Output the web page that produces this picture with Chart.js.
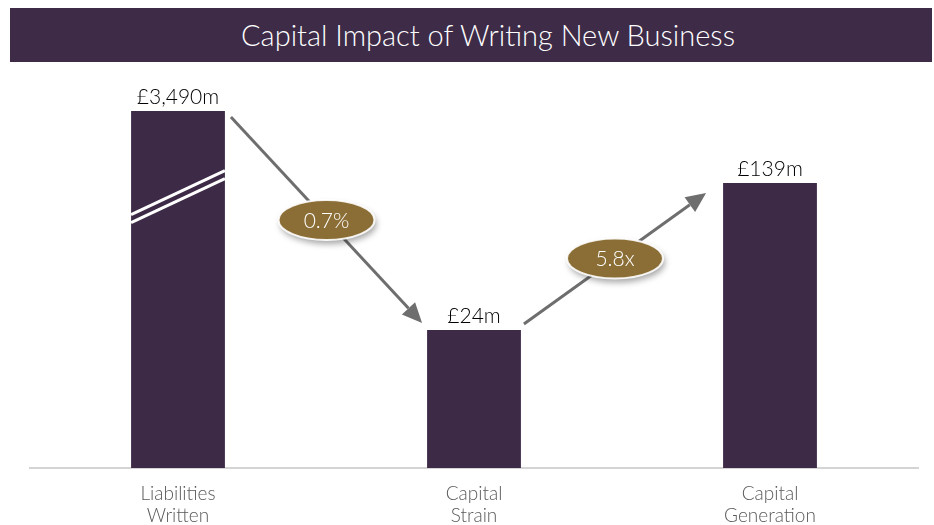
<!DOCTYPE html>
<html>
<head>
<meta charset="utf-8">
<script src="https://cdn.jsdelivr.net/npm/chart.js@4.4.1/dist/chart.umd.min.js"></script>
<style>
  html, body { margin: 0; padding: 0; background: #fff; }
  #wrap { position: relative; width: 934px; height: 525px; }
  #title {
    position: absolute; left: 10px; top: 8px; width: 922px; height: 54px;
    box-sizing: border-box; padding-left: 34px;
    background: #3d2b47; color: #fff;
    font: 300 29px Lato, sans-serif; line-height: 54px; text-align: center;
  }
  #chart { position: absolute; left: 0; top: 0; }
</style>
</head>
<body>
<div id="wrap">
  <canvas id="chart" width="934" height="525"></canvas>
  <div id="title">Capital Impact of Writing New Business</div>
</div>
<script>
// Bars, £m
const categories = [['Liabilities', 'Written'], ['Capital', 'Strain'], ['Capital', 'Generation']];
const amounts = [3490, 24, 139];

// Log axis range; the liabilities bar runs off the top and gets a break mark
const yMin = 4.61;
const yMax = 328.6;

const barColour = '#3c2a46';
const labelFont = '300 21px Lato, sans-serif';

function barTop(bar, area) {
  return Math.max(bar.y, area.top);
}

// Value labels above each bar
const valueLabels = {
  id: 'valueLabels',
  afterDatasetsDraw(chart) {
    const ctx = chart.ctx;
    const bars = chart.getDatasetMeta(0).data;
    ctx.save();
    ctx.font = labelFont;
    ctx.fillStyle = '#000';
    ctx.textAlign = 'center';
    ctx.textBaseline = 'bottom';
    bars.forEach((bar, i) => {
      const text = '£' + amounts[i].toLocaleString('en-GB') + 'm';
      ctx.fillText(text, bar.x, barTop(bar, chart.chartArea) - 3);
    });
    ctx.restore();
  }
};

// White double slash on bars cut off by the axis max
const breakMarks = {
  id: 'breakMarks',
  afterDatasetsDraw(chart) {
    const ctx = chart.ctx;
    const area = chart.chartArea;
    chart.getDatasetMeta(0).data.forEach((bar, i) => {
      if (amounts[i] <= yMax) return;
      const left = bar.x - bar.width / 2;
      const right = bar.x + bar.width / 2;
      const mid = area.top + (bar.base - area.top) * 0.24;
      ctx.save();
      ctx.strokeStyle = '#fff';
      ctx.lineWidth = 3;
      [-4, 4].forEach(off => {
        ctx.beginPath();
        ctx.moveTo(left, mid + 22 + off);
        ctx.lineTo(right, mid - 22 + off);
        ctx.stroke();
      });
      ctx.restore();
    });
  }
};

function drawArrow(ctx, x1, y1, x2, y2) {
  const ang = Math.atan2(y2 - y1, x2 - x1);
  const head = 20, half = 9;
  const bx = x2 - head * Math.cos(ang);
  const by = y2 - head * Math.sin(ang);
  ctx.strokeStyle = '#6e6e6e';
  ctx.fillStyle = '#6e6e6e';
  ctx.lineWidth = 3;
  ctx.beginPath();
  ctx.moveTo(x1, y1);
  ctx.lineTo(bx, by);
  ctx.stroke();
  ctx.beginPath();
  ctx.moveTo(x2, y2);
  ctx.lineTo(bx + half * Math.sin(ang), by - half * Math.cos(ang));
  ctx.lineTo(bx - half * Math.sin(ang), by + half * Math.cos(ang));
  ctx.closePath();
  ctx.fill();
}

function drawBadge(ctx, x, y, text) {
  ctx.save();
  ctx.shadowColor = 'rgba(0,0,0,0.35)';
  ctx.shadowBlur = 6;
  ctx.shadowOffsetX = 2;
  ctx.shadowOffsetY = 4;
  ctx.beginPath();
  ctx.ellipse(x, y, 48, 20, 0, 0, Math.PI * 2);
  ctx.fillStyle = '#8b6e36';
  ctx.fill();
  ctx.shadowColor = 'transparent';
  ctx.strokeStyle = 'rgba(255,255,255,0.9)';
  ctx.lineWidth = 2;
  ctx.stroke();
  ctx.fillStyle = '#fff';
  ctx.font = '300 21px Lato, sans-serif';
  ctx.textAlign = 'center';
  ctx.textBaseline = 'middle';
  ctx.fillText(text, x, y + 1);
  ctx.restore();
}

// Arrows between bars with the ratio in an oval
const ratioArrows = {
  id: 'ratioArrows',
  afterDatasetsDraw(chart) {
    const ctx = chart.ctx;
    const area = chart.chartArea;
    const [b0, b1, b2] = chart.getDatasetMeta(0).data;
    const edges = b => ({
      l: b.x - b.width / 2, r: b.x + b.width / 2, t: barTop(b, area)
    });
    const e0 = edges(b0), e1 = edges(b1), e2 = edges(b2);

    const strain = (amounts[1] / amounts[0] * 100).toFixed(1) + '%';
    const multiple = (amounts[2] / amounts[1]).toFixed(1) + 'x';

    const legs = [
      { x1: e0.r + 6, y1: e0.t + 6, x2: e1.l - 5, y2: e1.t - 7, text: strain },
      { x1: e1.r + 3, y1: e1.t - 6, x2: e2.l - 17, y2: e2.t + 10, text: multiple }
    ];
    ctx.save();
    legs.forEach(leg => {
      drawArrow(ctx, leg.x1, leg.y1, leg.x2, leg.y2);
      drawBadge(ctx, (leg.x1 + leg.x2) / 2, (leg.y1 + leg.y2) / 2, leg.text);
    });
    ctx.restore();
  }
};

new Chart(document.getElementById('chart'), {
  type: 'bar',
  data: {
    labels: categories,
    datasets: [{
      data: amounts,
      backgroundColor: barColour,
      barPercentage: 0.317,
      categoryPercentage: 1,
      clip: 0
    }]
  },
  options: {
    responsive: false,
    animation: false,
    layout: { padding: { top: 111, left: 30, right: 16, bottom: 0 } },
    plugins: {
      legend: { display: false },
      tooltip: { enabled: false }
    },
    scales: {
      x: {
        grid: { display: false },
        border: { color: '#d4d4d4', width: 2 },
        ticks: {
          color: '#595959',
          padding: 6,
          font: { family: 'Lato', size: 19, weight: '300', lineHeight: 1.2 }
        },
        afterFit(scale) { scale.height = 57; }
      },
      y: {
        type: 'logarithmic',
        display: false,
        min: yMin,
        max: yMax,
        bounds: 'data'
      }
    }
  },
  plugins: [ratioArrows, breakMarks, valueLabels]
});
</script>
</body>
</html>
